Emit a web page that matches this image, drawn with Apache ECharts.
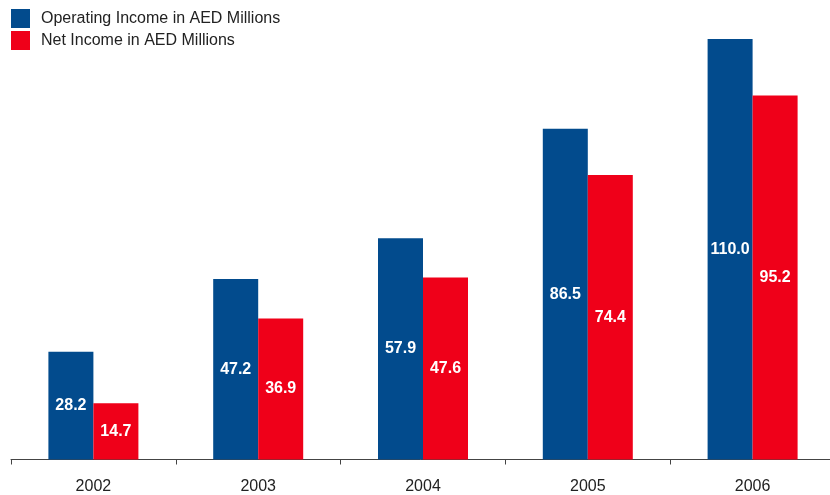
<!DOCTYPE html>
<html>
<head>
<meta charset="utf-8">
<script src="https://cdn.jsdelivr.net/npm/echarts@6/dist/echarts.min.js"></script>
<style>
  html, body { margin: 0; padding: 0; background: #fff; }
  #chart { width: 830px; height: 495px; }
</style>
</head>
<body>
<div id="chart"></div>
<script>
// Yearly results, AED millions
const years = ['2002', '2003', '2004', '2005', '2006'];
const operatingIncome = [28.2, 47.2, 57.9, 86.5, 110.0];
const netIncome = [14.7, 36.9, 47.6, 74.4, 95.2];
const seriesNames = ['Operating Income in AED Millions', 'Net Income in AED Millions'];

const BLUE = '#024b8d';
const RED = '#ef0019';

const chart = echarts.init(document.getElementById('chart'), null, { renderer: 'canvas' });

const valueLabel = {
  show: true,
  position: 'inside',
  color: '#fff',
  fontFamily: 'Liberation Sans, Arial, sans-serif',
  fontWeight: 'bold',
  fontSize: 16,
  formatter: p => p.value.toFixed(1)
};

chart.setOption({
  animation: false,
  backgroundColor: '#fff',
  legend: {
    orient: 'vertical',
    left: 6,
    top: 4,
    itemWidth: 19,
    itemHeight: 19,
    itemGap: 3,
    icon: 'rect',
    selectedMode: false,
    textStyle: {
      fontFamily: 'Liberation Sans, Arial, sans-serif',
      fontSize: 16,
      color: '#222',
      padding: [0, 0, 0, 6]
    },
    data: seriesNames
  },
  // the last category runs slightly past the right edge of the canvas
  grid: { left: 11, width: 824, top: 39, bottom: 35.5, containLabel: false, outerBoundsMode: 'none' },
  xAxis: {
    type: 'category',
    data: years,
    axisLine: { lineStyle: { color: '#444', width: 1 } },
    axisTick: { show: true, length: 5, lineStyle: { color: '#444' } },
    axisLabel: {
      fontFamily: 'Liberation Sans, Arial, sans-serif',
      fontSize: 16,
      color: '#222',
      margin: 19
    }
  },
  yAxis: {
    type: 'value',
    min: 0,
    max: 110,
    show: false,
    splitLine: { show: false }
  },
  series: [
    {
      name: seriesNames[0],
      type: 'bar',
      data: operatingIncome,
      barWidth: 45,
      barGap: '0%',
      itemStyle: { color: BLUE },
      label: valueLabel
    },
    {
      name: seriesNames[1],
      type: 'bar',
      data: netIncome,
      barWidth: 45,
      barGap: '0%',
      itemStyle: { color: RED },
      label: valueLabel
    }
  ]
});
</script>
</body>
</html>
